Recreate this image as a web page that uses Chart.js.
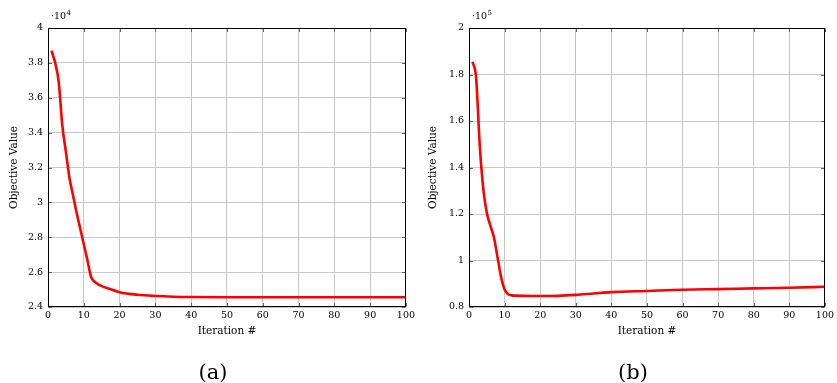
<!DOCTYPE html>
<html>
<head>
<meta charset="utf-8">
<script src="https://cdn.jsdelivr.net/npm/chart.js"></script>
<style>
  body { margin: 0; background: #fff; }
  canvas { position: absolute; top: 0; }
</style>
</head>
<body>
<canvas id="chartA" width="418" height="383" style="left:0"></canvas>
<canvas id="chartB" width="418" height="383" style="left:419px"></canvas>
<script>
// (a) objective value per iteration
const itersA = [1, 2, 3, 4, 5, 6, 7, 8, 9, 10, 11, 12, 13, 14, 15, 17, 20, 25, 30, 35, 40, 50, 60, 70, 80, 90, 100];
const valuesA = [38700, 38000, 36900, 34400, 32900, 31400, 30400, 29400, 28500, 27600, 26700, 25750, 25450, 25300, 25200,
  25050, 24850, 24700, 24630, 24590, 24570, 24560, 24560, 24560, 24560, 24560, 24560];

// (b)
const itersB = [1, 2, 3, 4, 5, 6, 7, 8, 9, 10, 11, 12, 13, 15, 20, 25, 30, 35, 40, 50, 60, 70, 80, 90, 100];
const valuesB = [185500, 178500, 150000, 131000, 120500, 115000, 110000, 101500, 93000, 87500, 85500, 85000, 84900,
  84800, 84700, 84800, 85200, 85800, 86400, 86900, 87400, 87700, 88000, 88300, 88700];

const xTicks = [0, 10, 20, 30, 40, 50, 60, 70, 80, 90, 100];

const serif = '"DejaVu Serif", serif';

// pgfplots-like box, inner tick marks, exponent and sub caption
const pgfFrame = {
  id: 'pgfFrame',
  afterDatasetsDraw(chart, args, opts) {
    const { ctx, chartArea: a, scales } = chart;
    const l = Math.round(a.left) + 0.5, r = Math.round(a.right) - 0.5;
    const t = Math.round(a.top) + 0.5, b = Math.round(a.bottom) - 0.5;
    ctx.save();
    ctx.strokeStyle = '#666';
    ctx.lineWidth = 1;
    ctx.beginPath();
    scales.x.ticks.forEach(tk => {
      const px = Math.round(scales.x.getPixelForValue(tk.value)) + 0.5;
      ctx.moveTo(px, b); ctx.lineTo(px, b - 3.5);
      ctx.moveTo(px, t); ctx.lineTo(px, t + 3.5);
    });
    scales.y.ticks.forEach(tk => {
      const py = Math.round(scales.y.getPixelForValue(tk.value)) + 0.5;
      ctx.moveTo(l, py); ctx.lineTo(l + 3.5, py);
      ctx.moveTo(r, py); ctx.lineTo(r - 3.5, py);
    });
    ctx.stroke();
    ctx.strokeStyle = '#000';
    ctx.strokeRect(l, t, r - l, b - t);

    ctx.fillStyle = '#000';
    ctx.textBaseline = 'alphabetic';
    ctx.font = '9.5px ' + serif;
    ctx.fillText('·10', a.left + 3, a.top - 9);
    const w = ctx.measureText('·10').width;
    ctx.font = '7px ' + serif;
    ctx.fillText(opts.exp, a.left + 3.5 + w, a.top - 13.5);

    ctx.font = '21px ' + serif;
    ctx.textAlign = 'center';
    ctx.fillText(opts.caption, (a.left + a.right) / 2 - 14, 379);
    ctx.restore();
  }
};

function makeChart(id, iters, values, yMin, yMax, yStep, exp, caption, yWidth, padRight) {
  const div = Math.pow(10, exp);
  return new Chart(document.getElementById(id), {
    type: 'line',
    data: {
      datasets: [{
        data: iters.map((x, i) => ({ x: x, y: values[i] })),
        borderColor: '#ff0000',
        borderWidth: 2.6,
        pointRadius: 0,
        fill: false,
        cubicInterpolationMode: 'monotone'
      }]
    },
    options: {
      responsive: false,
      animation: false,
      layout: { padding: { left: 0, right: padRight, top: 28, bottom: 38 } },
      plugins: {
        legend: { display: false },
        tooltip: { enabled: false },
        pgfFrame: { exp: String(exp), caption: caption }
      },
      scales: {
        x: {
          type: 'linear',
          min: 0, max: 100,
          afterBuildTicks: s => { s.ticks = xTicks.map(v => ({ value: v })); },
          afterFit: s => { s.height = 38; },
          grid: { color: '#c8c8c8', lineWidth: 1, drawTicks: false },
          border: { display: false },
          ticks: { padding: 3, maxRotation: 0, autoSkip: false, color: '#000', font: { family: serif, size: 9.5 } },
          title: { display: true, text: 'Iteration #', color: '#000', padding: { top: 7, bottom: 7 }, font: { family: serif, size: 10.5 } }
        },
        y: {
          min: yMin, max: yMax,
          ticks: {
            stepSize: yStep, padding: 5, color: '#000', font: { family: serif, size: 9.5 },
            callback: v => String(Math.round(v / div * 10) / 10)
          },
          afterFit: s => { s.width = yWidth; },
          grid: { color: '#c8c8c8', lineWidth: 1, drawTicks: false },
          border: { display: false },
          title: { display: true, text: 'Objective Value', color: '#000', padding: { top: 8, bottom: 8 }, font: { family: serif, size: 10.5 } }
        }
      }
    },
    plugins: [pgfFrame]
  });
}

makeChart('chartA', itersA, valuesA, 24000, 40000, 2000, 4, '(a)', 48, 12);
makeChart('chartB', itersB, valuesB, 80000, 200000, 20000, 5, '(b)', 50, 11);
</script>
</body>
</html>
